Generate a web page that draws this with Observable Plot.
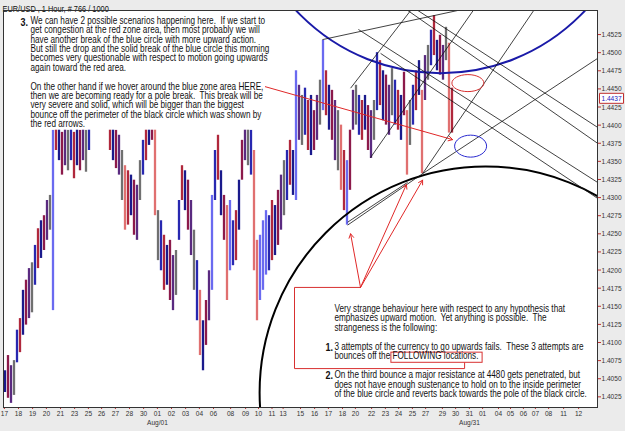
<!DOCTYPE html>
<html>
<head>
<meta charset="utf-8">
<script src="https://cdn.jsdelivr.net/npm/d3@7"></script>
<script src="https://cdn.jsdelivr.net/npm/@observablehq/plot@0.6"></script>
<style>
  html, body { margin: 0; padding: 0; background: #ebebeb; }
  #chart { width: 625px; height: 431px; }
</style>
</head>
<body>
<div id="chart"></div>
<script>
// ---------- DATA ----------
// hourly bars: high and low prices, bar index = position in the arrays
const hi = [1.4061,1.4082,1.4068,1.4075,1.4117,1.4133,1.4172,1.4186,1.4202,1.4210,
            1.4234,1.4257,1.4268,1.4275,1.4296,1.4303,1.4393,1.4400,1.4395,1.4390,
            1.4400,1.4393,1.4395,1.4390,1.4395,1.4393,1.4395,1.4393,1.4404,1.4434,
            1.4441,1.4448,1.4441,1.4434,1.4427,1.4420,1.4395,1.4393,1.4386,1.4365,
            1.4344,1.4337,1.4331,1.4324,1.4317,1.4351,1.4379,1.4400,1.4413,1.4420,
            1.4413,1.4282,1.4268,1.4248,1.4234,1.4241,1.4220,1.4227,1.4296,1.4344,
            1.4337,1.4324,1.4296,1.4255,1.4213,1.4172,1.4130,1.4158,1.4199,1.4303,
            1.4365,1.4386,1.4337,1.4303,1.4289,1.4296,1.4268,1.4282,1.4324,1.4379,
            1.4406,1.4400,1.4393,1.4365,1.4241,1.4248,1.4268,1.4282,1.4275,1.4296,
            1.4289,1.4310,1.4331,1.4351,1.4365,1.4379,1.4365,1.4475,1.4455,1.4441,
            1.4451,1.4434,1.4441,1.4420,1.4441,1.4462,1.4517,1.4475,1.4455,1.4448,
            1.4434,1.4420,1.4400,1.4365,1.4351,1.4393,1.4448,1.4455,1.4441,1.4434,
            1.4441,1.4427,1.4420,1.4434,1.4500,1.4489,1.4475,1.4469,1.4455,1.4478,
            1.4462,1.4448,1.4441,1.4473,1.4420,1.4434,1.4455,1.4475,1.4489,1.4448,
            1.4496,1.4510,1.4531,1.4551,1.4517,1.4524,1.4510,1.4535,1.4513,1.4451];
const lo = [1.4031,1.4023,1.4016,1.4027,1.4072,1.4086,1.4110,1.4124,1.4133,1.4141,
            1.4179,1.4202,1.4216,1.4227,1.4241,1.4255,1.4144,1.4365,1.4351,1.4331,
            1.4344,1.4337,1.4351,1.4326,1.4344,1.4337,1.4351,1.4335,1.4365,1.4400,
            1.4406,1.4409,1.4404,1.4400,1.4395,1.4365,1.4351,1.4340,1.4331,1.4296,
            1.4255,1.4262,1.4275,1.4248,1.4241,1.4296,1.4331,1.4351,1.4372,1.4379,
            1.4275,1.4213,1.4199,1.4172,1.4179,1.4158,1.4144,1.4165,1.4241,1.4296,
            1.4282,1.4255,1.4220,1.4172,1.4130,1.4082,1.4061,1.4096,1.4130,1.4172,
            1.4296,1.4324,1.4275,1.4241,1.4158,1.4199,1.4206,1.4213,1.4255,1.4324,
            1.4351,1.4344,1.4331,1.4199,1.4130,1.4158,1.4172,1.4193,1.4199,1.4213,
            1.4220,1.4234,1.4255,1.4275,1.4296,1.4317,1.4303,1.4296,1.4379,1.4372,
            1.4386,1.4365,1.4358,1.4365,1.4379,1.4400,1.4420,1.4413,1.4393,1.4379,
            1.4351,1.4337,1.4310,1.4282,1.4262,1.4310,1.4393,1.4400,1.4386,1.4379,
            1.4393,1.4365,1.4354,1.4379,1.4420,1.4427,1.4406,1.4400,1.4386,1.4413,
            1.4400,1.4393,1.4379,1.4413,1.4331,1.4372,1.4400,1.4420,1.4441,1.4333,
            1.4434,1.4462,1.4482,1.4496,1.4475,1.4469,1.4462,1.4489,1.4389,1.4389];
const lastPrice = 1.4437;

// axis ticks
const yTicks = [1.4025,1.4050,1.4075,1.4100,1.4125,1.4150,1.4175,1.4200,1.4225,1.4250,
                1.4275,1.4300,1.4325,1.4350,1.4375,1.4400,1.4425,1.4450,1.4475,1.4500,1.4525];
const xTickPos = [-0.2,4.5,9.2,13.8,18.5,23.2,27.8,32.2,36.8,41.5,46.2,50.8,55.5,60.2,64.8,
                  69.5,75.2,80.2,84.5,89.0,92.7,98.5,103.2,107.8,112.5,116.8,122.2,126.8,131.2,
                  135.8,140.2,145.8,150.2,154.8,159.2,164.5,168.5,172.8,176.8,181.2,186.2,191.2];
const xTickLabels = ["17","18","19","20","21","23","25","26","27","28","30","01","02","03","04",
                     "06","08","09","10","11","13","15","16","17","18","20","22","23","24",
                     "25","27","29","30","31","01","04","05","06","07","08","11","12"];
const monthLabels = ["Aug/01", "Aug/31"];
const monthPos = [50.8, 154.8];

// drawn annotations (data coordinates: bar index, price)
const trendLines = [
  [105.8,1.4518,158.5,1.4565],
  [115.2,1.4451,137.8,1.4572],
  [121.8,1.4355,158.4,1.4572],
  [139.2,1.4333,178.5,1.4572],
  [139.2,1.4333,197.5,1.4492],
  [117.8,1.4532,197.5,1.4321],
  [125.2,1.4499,197.5,1.4299],
  [132.5,1.4572,197.5,1.4397],
  [129.5,1.4572,197.5,1.4375],
  [114.2,1.4262,139.2,1.4333],
  [114.2,1.4266,134.2,1.4321]
];
const redArrows = [
  [118.5,1.4176,115.2,1.4250],
  [118.5,1.4176,133.8,1.4318],
  [118.5,1.4176,139.2,1.4324],
  [86.8,1.4453,149.2,1.4380]
];
const redPath = [[153.2,1.4072],[153.2,1.4064],[96.5,1.4064],[96.5,1.4176],[118.5,1.4176]];
const followBox = [128.8,159.2,1.4086,1.4072];
const blueCircle = {x: 145.2, y: 1.4745};
const blackCircle = {x: 160.2, y: 1.4031};
const redZone = {x: 154.3, y: 1.4458};
const blueZone = {x: 155.2, y: 1.4371};
const textBox = [3.5, 95.8, 1.4393, 1.4557];

const titleText = "EUR/USD , 1 Hour, # 766 / 1000";
const para3 = [
  "We can have 2 possible scenarios happening here.  If we start to",
  "get congestion at the red zone area, then most probably we will",
  "have another break of the blue circle with more upward action.",
  "But still the drop and the solid break of the blue circle this morning",
  "becomes very questionable with respect to motion going upwards",
  "again toward the red area.",
  "",
  "On the other hand if we hover around the blue zone area HERE,",
  "then we are becoming ready for a pole break.  This break will be",
  "very severe and solid, which will be bigger than the biggest",
  "bounce off the perimeter of the black circle which was shown by",
  "the red arrows."
];
const paraBottom = [
  "Very strange behaviour here with respect to any hypothesis that",
  "emphasizes upward motion.  Yet anything is possible.  The",
  "strangeness is the following:",
  "",
  "3 attempts of the currency to go upwards fails.  These 3 attempts are",
  "bounces off the FOLLOWING locations.",
  "",
  "On the third bounce a major resistance at 4480 gets penetrated, but",
  "does not have enough sustenance to hold on to the inside perimeter",
  "of the blue circle and reverts back towards the pole of the black circle."
];
const numLabels = [
  {t: "3.", x: 5.2, y: 1.4542},
  {t: "1.", x: 106.8, y: 1.4093},
  {t: "2.", x: 106.8, y: 1.4054}
];

// ---------- BUILD ----------
const bars = hi.map((h, i) => ({i, hi: h, lo: lo[i]}));
const palette = ["#1a1a8c", "#8c1a4a", "#5a2a80", "#707070", "#2828b0", "#b0283c"];
function barColor(d) {
  const big = d.hi - d.lo > 0.0085;
  if (big) {
    const p = bars[Math.max(0, d.i - 1)], n = bars[Math.min(bars.length - 1, d.i + 1)];
    return (n.hi + n.lo) > (p.hi + p.lo) ? "#6a6af0" : "#e07070";
  }
  return palette[d.i % palette.length];
}
function ellipseSymbol(rx, ry) {
  const k = 0.5523;
  return {draw(ctx) {
    ctx.moveTo(rx, 0);
    ctx.bezierCurveTo(rx, ry * k, rx * k, ry, 0, ry);
    ctx.bezierCurveTo(-rx * k, ry, -rx, ry * k, -rx, 0);
    ctx.bezierCurveTo(-rx, -ry * k, -rx * k, -ry, 0, -ry);
    ctx.bezierCurveTo(rx * k, -ry, rx, -ry * k, rx, 0);
    ctx.closePath();
  }};
}
const boxSymbol = {draw(ctx) { ctx.rect(-12, -5, 24, 10); }};
const labelMap = new Map(xTickPos.map((p, i) => [p, xTickLabels[i]]));
const FONT = "'Liberation Sans', Arial, sans-serif";

const chart = Plot.plot({
  width: 625,
  height: 431,
  marginLeft: 3,
  marginRight: 28,
  marginTop: 10,
  marginBottom: 24,
  style: {background: "#ebebeb", fontFamily: FONT, fontSize: "8px", color: "#222"},
  x: {type: "linear", domain: [-0.5, 197.5]},
  y: {domain: [1.40103, 1.45582]},
  marks: [
    Plot.frame({fill: "white", stroke: "none"}),
    Plot.ruleX(bars, {x: "i", y1: "lo", y2: "hi", stroke: barColor, strokeWidth: 2.3}),
    Plot.dot([blueCircle], {x: "x", y: "y", r: 198, stroke: "#1a1aa8", strokeWidth: 2, fill: "none", clip: true}),
    Plot.dot([blackCircle], {x: "x", y: "y", r: 226, stroke: "#000", strokeWidth: 2, fill: "none", clip: true}),
    Plot.link(trendLines, {x1: d => d[0], y1: d => d[1], x2: d => d[2], y2: d => d[3], stroke: "#111", strokeWidth: 0.8, clip: true}),
    Plot.dot([redZone], {x: "x", y: "y", symbol: ellipseSymbol(16, 8.5), stroke: "#d83030", strokeWidth: 1, fill: "none"}),
    Plot.dot([blueZone], {x: "x", y: "y", symbol: ellipseSymbol(16, 11), stroke: "#2a2ad0", strokeWidth: 1, fill: "none"}),
    Plot.rect([textBox], {x1: d => d[0], x2: d => d[1], y1: d => d[2], y2: d => d[3], fill: "white"}),
    Plot.line(redPath, {x: d => d[0], y: d => d[1], stroke: "#d83030", strokeWidth: 1}),
    Plot.rect([followBox], {x1: d => d[0], x2: d => d[1], y1: d => d[2], y2: d => d[3], fill: "none", stroke: "#d83030", strokeWidth: 1}),
    Plot.arrow(redArrows, {x1: d => d[0], y1: d => d[1], x2: d => d[2], y2: d => d[3], stroke: "#e02828", strokeWidth: 1, headLength: 7}),
    Plot.text([para3.join("\n")], {x: 8.5, y: 1.4549, textAnchor: "start", lineAnchor: "top", lineHeight: 0.94, fontSize: 10, fill: "#111"}),
    Plot.text([paraBottom.join("\n")], {x: 109.8, y: 1.4152, textAnchor: "start", lineAnchor: "top", lineHeight: 0.95, fontSize: 10, fill: "#111"}),
    Plot.text(numLabels, {x: "x", y: "y", text: "t", textAnchor: "start", fontSize: 11, fontWeight: "bold", fill: "#111"}),
    Plot.text([titleText], {frameAnchor: "top-left", dx: -1, dy: -5, textAnchor: "start", fontSize: 9, fill: "#111"}),
    Plot.axisY({anchor: "right", ticks: yTicks, tickSize: 3, tickPadding: 1, stroke: "#c03030", fill: "#333", tickFormat: d3.format(".4f"), label: null}),
    Plot.axisX({anchor: "bottom", ticks: xTickPos, tickSize: 2, tickPadding: 1, stroke: "#c03030", fill: "#333", tickFormat: d => labelMap.get(d), label: null}),
    Plot.text(monthLabels, {x: (d, i) => monthPos[i], frameAnchor: "bottom", dy: 17, fill: "#333"}),
    Plot.dot([lastPrice], {y: d => d, frameAnchor: "right", dx: 14, symbol: boxSymbol, stroke: "#c03030", strokeWidth: 1, fill: "white"}),
    Plot.text([lastPrice], {y: d => d, frameAnchor: "right", dx: 14, textAnchor: "middle", text: d => d3.format(".4f")(d), fill: "#2020c0"}),
    Plot.frame({stroke: "#333"})
  ]
});
document.getElementById("chart").appendChild(chart);

// narrow the glyphs horizontally (the original uses a condensed bitmap font)
chart.querySelectorAll("text").forEach(t => {
  const spans = t.querySelectorAll("tspan");
  if (spans.length) {
    // multi-line paragraphs: scale about the anchor point
    const x = +(t.getAttribute("x") || 0), y = +(t.getAttribute("y") || 0);
    const tr = t.getAttribute("transform") || "";
    t.setAttribute("transform", `${tr} translate(${x},${y}) scale(0.82,1) translate(${-x},${-y})`);
  } else {
    const w = t.getComputedTextLength();
    if (w > 0) {
      t.setAttribute("textLength", (w * 0.82).toFixed(2));
      t.setAttribute("lengthAdjust", "spacingAndGlyphs");
    }
  }
});
</script>
</body>
</html>
